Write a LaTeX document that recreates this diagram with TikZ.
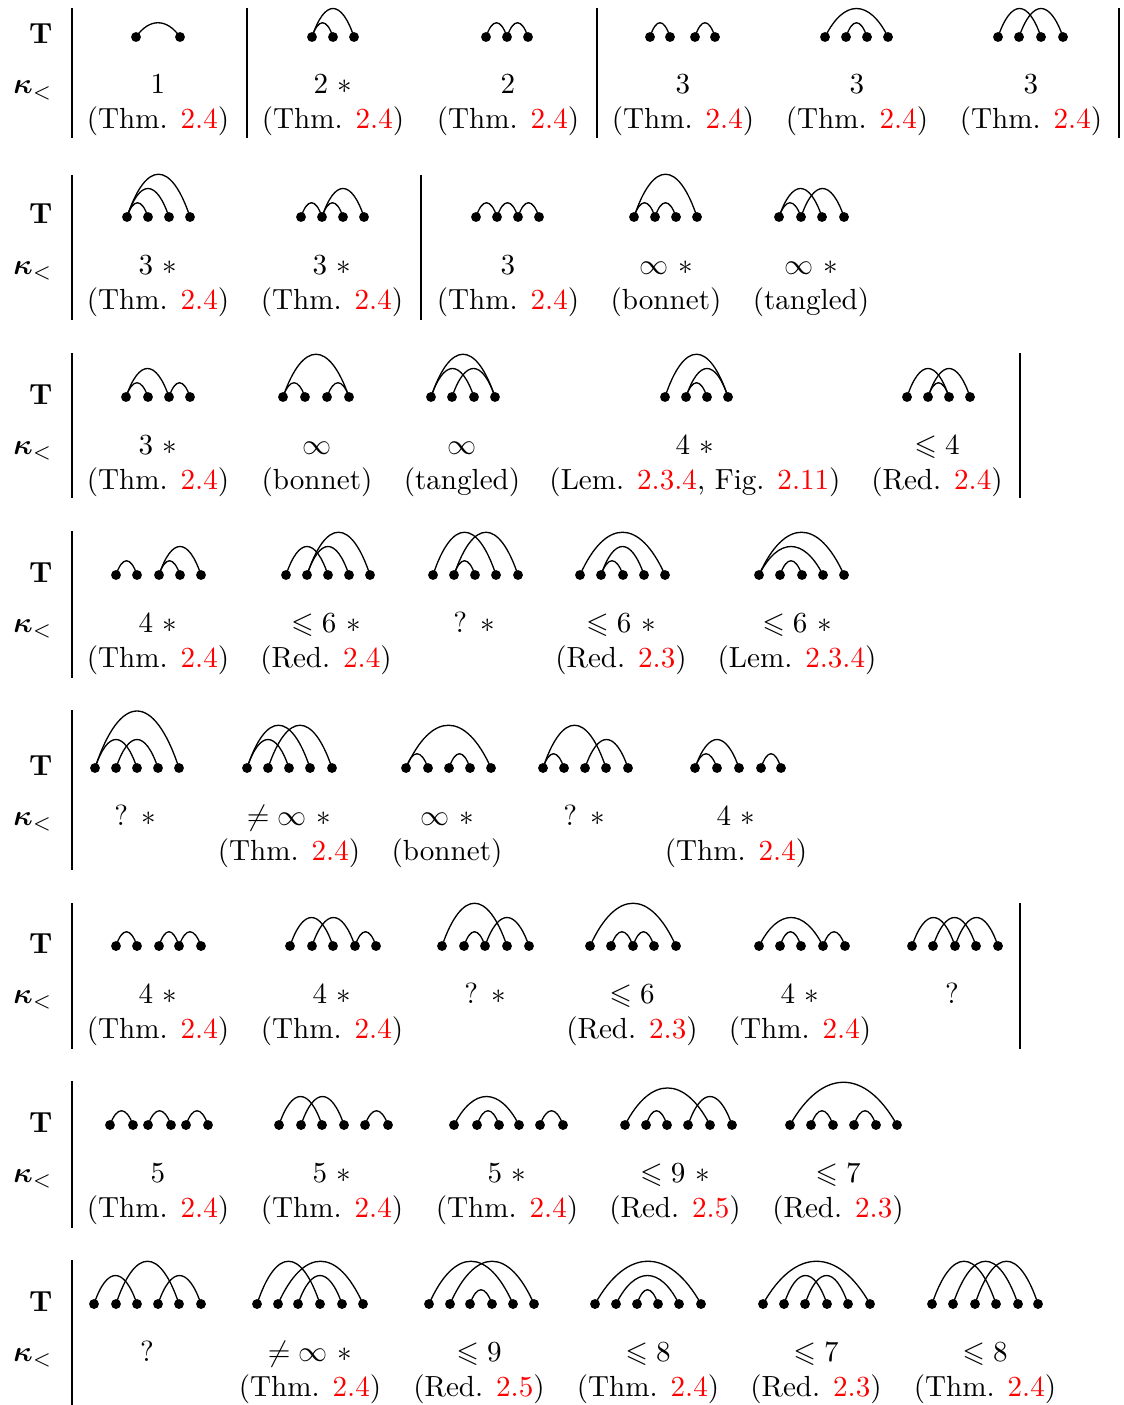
\documentclass[tikz,border=0pt]{standalone}
\usepackage{amsmath,amssymb}
\usepackage{xcolor}
\usetikzlibrary{calc}
\newcommand\rf[1]{\textcolor{red}{#1}}
\tikzset{
  dot/.style={circle,fill=black,inner sep=0pt,minimum size=3.4pt},
  arcl/.style={line width=0.45pt},
  val/.style={anchor=base,inner sep=0pt},
  lbl/.style={anchor=base east,inner sep=0pt},
  rule/.style={line width=0.4pt}
}
% #1 name, #2 baseline, #3 x list, #4 arcs p/q/level
\newcommand\diag[4]{%
  \foreach \xx [count=\i] in {#3} {\node[dot] (#1v\i) at (\xx,#2) {};}
  \foreach \p/\q/\l in {#4} {\draw[arcl] (#1v\p.center) .. controls ($(#1v\p)!0.3!(#1v\q)+(0,{-19*\l})$) and ($(#1v\p)!0.7!(#1v\q)+(0,{-19*\l})$) .. (#1v\q.center);}
}
% #1 name, #2 x, #3 baseline, #4 value, #5 reference
\newcommand\vr[5]{\node[val] (#1K) at (#2,{#3+57}) {#4}; \node[val] (#1R) at (#2,{#3+92}) {#5};}
\newcommand\vo[4]{\node[val] (#1K) at (#2,{#3+57}) {#4};}
\newcommand\rowlab[2]{\node[lbl] (#1T) at (53,{#2+7}) {\textbf{T}}; \node[lbl] (#1L) at (53,{#2+57}) {$\boldsymbol{\kappa}_<$};}
\begin{document}
\begin{tikzpicture}[x=0.3436pt,y=-0.3436pt]
\useasboundingbox (0,0) rectangle (1123,1405);
% ---------- Row 1 ----------
\rowlab{r1}{37}
\draw[rule] (72,8) -- (72,138);
\draw[rule] (247,8) -- (247,138);
\draw[rule] (597,8) -- (597,138);
\draw[rule] (1119,8) -- (1119,138);
\diag{r1a}{37}{136,180}{1/2/1}
\diag{r1b}{37}{312,333,354}{1/2/1,1/3/2}
\diag{r1c}{37}{486,507,528}{1/2/1,2/3/1}
\diag{r1d}{37}{650,670,695,715}{1/2/1,3/4/1}
\diag{r1e}{37}{825,846,867,888}{1/4/2,2/3/1}
\diag{r1f}{37}{998,1019,1041,1063}{1/3/2,2/4/2}
\vr{r1a}{158}{37}{1}{(Thm. \rf{2.4})}
\vr{r1b}{333}{37}{2 $\ast$}{(Thm. \rf{2.4})}
\vr{r1c}{508}{37}{2}{(Thm. \rf{2.4})}
\vr{r1d}{683}{37}{3}{(Thm. \rf{2.4})}
\vr{r1e}{857}{37}{3}{(Thm. \rf{2.4})}
\vr{r1f}{1031}{37}{3}{(Thm. \rf{2.4})}
% ---------- Row 2 ----------
\rowlab{r2}{217}
\draw[rule] (72,175) -- (72,320);
\draw[rule] (421,175) -- (421,320);
\diag{r2a}{217}{127,148,169,190}{1/2/1,1/3/2,1/4/3}
\diag{r2b}{217}{301,322,343,364}{1/2/1,2/3/1,2/4/2}
\diag{r2c}{217}{476,497,518,539}{1/2/1,2/3/1,3/4/1}
\diag{r2d}{217}{634,655,676,697}{1/4/3,1/2/1,2/3/1}
\diag{r2e}{217}{779,801,822,844}{1/2/1,1/3/2,2/4/2}
\vr{r2a}{158}{217}{3 $\ast$}{(Thm. \rf{2.4})}
\vr{r2b}{332}{217}{3 $\ast$}{(Thm. \rf{2.4})}
\vr{r2c}{508}{217}{3}{(Thm. \rf{2.4})}
\vr{r2d}{666}{217}{$\infty$ $\ast$}{(bonnet)}
\vr{r2e}{811}{217}{$\infty$ $\ast$}{(tangled)}
% ---------- Row 3 ----------
\rowlab{r3}{397}
\draw[rule] (72,353) -- (72,498);
\draw[rule] (1020,353) -- (1020,498);
\diag{r3a}{397}{126,148,169,190}{1/2/1,1/3/2,3/4/1}
\diag{r3b}{397}{283,305,327,349}{1/4/3,1/2/1,3/4/1}
\diag{r3c}{397}{431,452,474,495}{1/4/3,1/3/2,2/4/2}
\diag{r3d}{397}{665,686,707,728}{1/4/3,2/4/2,2/3/1}
\diag{r3e}{397}{907,928,949,970}{1/3/2,2/4/2,2/3/1}
\vr{r3a}{158}{397}{3 $\ast$}{(Thm. \rf{2.4})}
\vr{r3b}{317}{397}{$\infty$}{(bonnet)}
\vr{r3c}{462}{397}{$\infty$}{(tangled)}
\vr{r3d}{695}{397}{4 $\ast$}{(Lem. \rf{2.3.4}, Fig. \rf{2.11})}
\vr{r3e}{937}{397}{$\leqslant 4$}{(Red. \rf{2.4})}
% ---------- Row 4 ----------
\rowlab{r4}{575}
\draw[rule] (72,531) -- (72,678);
\diag{r4a}{575}{116,137,159,180,201}{1/2/1,3/4/1,3/5/2}
\diag{r4b}{575}{286,307,328,349,370}{1/3/2,2/4/2,2/5/3}
\diag{r4c}{575}{433,454,475,496,518}{1/4/3,2/5/3,2/3/1}
\diag{r4d}{575}{580,601,623,644,665}{1/5/3,2/4/2,2/3/1}
\diag{r4e}{575}{759,780,802,823,844}{1/5/3,1/4/2,2/3/1}
\vr{r4a}{158}{575}{4 $\ast$}{(Thm. \rf{2.4})}
\vr{r4b}{326}{575}{$\leqslant 6$ $\ast$}{(Red. \rf{2.4})}
\vo{r4c}{474}{575}{? $\ast$}
\vr{r4d}{621}{575}{$\leqslant 6$ $\ast$}{(Red. \rf{2.3})}
\vr{r4e}{797}{575}{$\leqslant 6$ $\ast$}{(Lem. \rf{2.3.4})}
% ---------- Row 5 ----------
\rowlab{r5}{768}
\draw[rule] (72,710) -- (72,870);
\diag{r5a}{768}{95,116,137,158,179}{1/5/4,1/3/2,2/4/2}
\diag{r5b}{768}{247,268,289,310,332}{1/3/2,1/4/3,2/5/3}
\diag{r5c}{768}{406,428,449,470,491}{1/5/3,1/2/1,3/4/1}
\diag{r5d}{768}{543,564,585,606,628}{1/4/3,1/2/1,3/5/2}
\diag{r5e}{768}{695,717,739,761,781}{1/3/2,1/2/1,4/5/1}
\vo{r5a}{135}{768}{? $\ast$}
\vr{r5b}{289}{768}{$\neq\infty$ $\ast$}{(Thm. \rf{2.4})}
\vr{r5c}{447}{768}{$\infty$ $\ast$}{(bonnet)}
\vo{r5d}{584}{768}{? $\ast$}
\vr{r5e}{736}{768}{4 $\ast$}{(Thm. \rf{2.4})}
% ---------- Row 6 ----------
\rowlab{r6}{946}
\draw[rule] (72,903) -- (72,1049);
\draw[rule] (1020,903) -- (1020,1049);
\diag{r6a}{946}{116,137,159,179,201}{1/2/1,3/4/1,4/5/1}
\diag{r6b}{946}{290,312,333,355,376}{1/3/2,2/4/2,4/5/1}
\diag{r6c}{946}{442,464,485,507,529}{1/4/3,2/3/1,3/5/2}
\diag{r6d}{946}{590,611,633,654,676}{1/5/3,2/3/1,3/4/1}
\diag{r6e}{946}{759,780,801,823,845}{1/4/2,2/3/1,4/5/1}
\diag{r6f}{946}{912,933,955,976,998}{1/3/2,2/4/2,3/5/2}
\vr{r6a}{158}{946}{4 $\ast$}{(Thm. \rf{2.4})}
\vr{r6b}{332}{946}{4 $\ast$}{(Thm. \rf{2.4})}
\vo{r6c}{485}{946}{? $\ast$}
\vr{r6d}{632}{946}{$\leqslant 6$}{(Red. \rf{2.3})}
\vr{r6e}{800}{946}{4 $\ast$}{(Thm. \rf{2.4})}
\vo{r6f}{952}{946}{?}
% ---------- Row 7 ----------
\rowlab{r7}{1125}
\draw[rule] (72,1081) -- (72,1228);
\diag{r7a}{1125}{110,133,148,171,186,208}{1/2/1,3/4/1,5/6/1}
\diag{r7b}{1125}{279,301,322,344,365,388}{1/3/2,2/4/2,5/6/1}
\diag{r7c}{1125}{454,477,499,519,540,563}{1/4/2,2/3/1,5/6/1}
\diag{r7d}{1125}{625,646,667,688,710,732}{1/5/2.6,2/3/1,4/6/2}
\diag{r7e}{1125}{790,811,833,854,876,897}{1/6/3,2/3/1,4/5/1}
\vr{r7a}{158}{1125}{5}{(Thm. \rf{2.4})}
\vr{r7b}{332}{1125}{5 $\ast$}{(Thm. \rf{2.4})}
\vr{r7c}{507}{1125}{5 $\ast$}{(Thm. \rf{2.4})}
\vr{r7d}{675}{1125}{$\leqslant 9$ $\ast$}{(Red. \rf{2.5})}
\vr{r7e}{838}{1125}{$\leqslant 7$}{(Red. \rf{2.3})}
% ---------- Row 8 ----------
\rowlab{r8}{1304}
\draw[rule] (72,1260) -- (72,1405);
\diag{r8a}{1304}{94,116,137,158,179,201}{1/3/2,2/5/3,4/6/2}
\diag{r8b}{1304}{257,278,298,320,342,363}{1/4/3,2/6/3,3/5/2}
\diag{r8c}{1304}{429,450,470,492,513,534}{1/5/3,2/6/3,3/4/1}
\diag{r8d}{1304}{595,616,637,658,679,701}{1/6/3,2/5/2,3/4/1}
\diag{r8e}{1304}{763,784,805,827,848,870}{1/6/3,2/4/2,3/5/2}
\diag{r8f}{1304}{932,953,975,996,1018,1038}{1/4/3,2/5/3,3/6/3}
\vo{r8a}{147}{1304}{?}
\vr{r8b}{310}{1304}{$\neq\infty$ $\ast$}{(Thm. \rf{2.4})}
\vr{r8c}{479}{1304}{$\leqslant 9$}{(Red. \rf{2.5})}
\vr{r8d}{648}{1304}{$\leqslant 8$}{(Thm. \rf{2.4})}
\vr{r8e}{816}{1304}{$\leqslant 7$}{(Red. \rf{2.3})}
\vr{r8f}{985}{1304}{$\leqslant 8$}{(Thm. \rf{2.4})}
\end{tikzpicture}
\end{document}
